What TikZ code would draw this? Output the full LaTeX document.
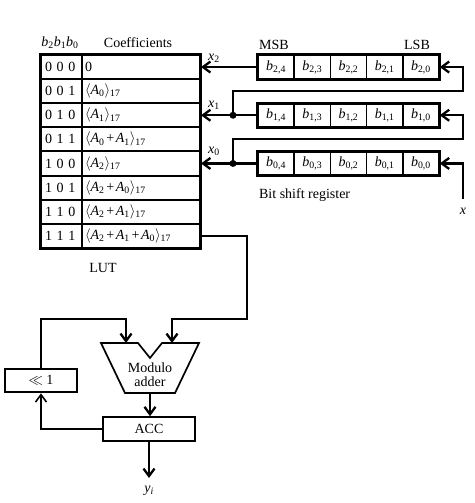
\documentclass[tikz,border=0pt]{standalone}
\usepackage{fontspec}
\setmainfont{Liberation Serif}
\usetikzlibrary{arrows.meta,calc}
\newcommand\iv[1]{\textit{#1}}
\newcommand\sbs[1]{\textsubscript{#1}}
\newcommand\bb[2]{\textit{b}\sbs{#1,#2}}
\newcommand\mA[1]{\textit{A}\sbs{#1}}
\newcommand\pl{\hspace{0.12em}+\hspace{0.12em}}
\newcommand\lng[1]{$\langle$#1$\rangle$\sbs{17}}
\begin{document}
\begin{tikzpicture}[x=1pt,y=-1pt,line width=2.3pt,
  font=\fontsize{14}{16}\selectfont,
  arr/.style={-{Straight Barb[length=7.5pt,width=11pt]}},
  lutk/.style={draw,line width=2pt,minimum width=41pt,minimum height=24.1pt,inner sep=0pt,text width=33pt,align=left},
  lutv/.style={draw,line width=2pt,minimum width=118pt,minimum height=24.1pt,inner sep=0pt,text width=112pt,align=left},
  regc/.style={draw,line width=1.5pt,minimum width=36.2pt,minimum height=23pt,inner sep=0pt},
  dot/.style={circle,fill,inner sep=0pt,minimum size=7pt},
  box/.style={draw,minimum height=23.5pt,inner sep=0pt},
  lbl/.style={inner sep=0pt}]
\useasboundingbox (0,0) rectangle (474,503);

% LUT
\node[lutk] (k0) at (61.5,67.05) {0 0 0};
\node[lutk] (k1) at (61.5,91.15) {0 0 1};
\node[lutk] (k2) at (61.5,115.25) {0 1 0};
\node[lutk] (k3) at (61.5,139.35) {0 1 1};
\node[lutk] (k4) at (61.5,163.45) {1 0 0};
\node[lutk] (k5) at (61.5,187.55) {1 0 1};
\node[lutk] (k6) at (61.5,211.65) {1 1 0};
\node[lutk] (k7) at (61.5,235.75) {1 1 1};
\node[lutv] (v0) at (141,67.05) {0};
\node[lutv] (v1) at (141,91.15) {\lng{\mA{0}}};
\node[lutv] (v2) at (141,115.25) {\lng{\mA{1}}};
\node[lutv] (v3) at (141,139.35) {\lng{\mA{0}\pl\mA{1}}};
\node[lutv] (v4) at (141,163.45) {\lng{\mA{2}}};
\node[lutv] (v5) at (141,187.55) {\lng{\mA{2}\pl\mA{0}}};
\node[lutv] (v6) at (141,211.65) {\lng{\mA{2}\pl\mA{1}}};
\node[lutv] (v7) at (141,235.75) {\lng{\mA{2}\pl\mA{1}\pl\mA{0}}};
\draw[line width=2.6pt] (k0.north west) rectangle (v7.south east);
\node[lbl] (hb) at (60,43) {\iv{b}\sbs{2}\iv{b}\sbs{1}\iv{b}\sbs{0}};
\node[lbl] (hc) at (138,43) {Coefficients};
\node[lbl] (lut) at (103,268) {LUT};

% shift registers
\foreach \r/\y in {2/67.05,1/115.25,0/163.45}{
  \node[regc] (r\r c4) at (276.1,\y) {\bb{\r}{4}};
  \node[regc] (r\r c3) at (312.3,\y) {\bb{\r}{3}};
  \node[regc] (r\r c2) at (348.5,\y) {\bb{\r}{2}};
  \node[regc] (r\r c1) at (384.7,\y) {\bb{\r}{1}};
  \node[regc] (r\r c0) at (420.9,\y) {\bb{\r}{0}};
  \draw[line width=2.6pt] (r\r c4.north west) rectangle (r\r c0.south east);
}
\node[lbl] (msb) at (274,45) {MSB};
\node[lbl] (lsb) at (417,45) {LSB};
\node[lbl,anchor=west] (bsr) at (258,195) {Bit shift register};

% connections registers -> LUT
\draw[arr] (r2c4.west) -- (v0.east);
\draw[arr] (r1c4.west) -- (v2.east);
\draw[arr] (r0c4.west) -- (v4.east);
\node[lbl] (lx2) at (214,58) {\iv{x}\sbs{2}};
\node[lbl] (lx1) at (214,105) {\iv{x}\sbs{1}};
\node[lbl] (lx0) at (214,151) {\iv{x}\sbs{0}};
\node[dot] (d1) at (233,115.25) {};
\node[dot] (d0) at (233,163.45) {};
\coordinate (f1) at (463,91);
\coordinate (f0) at (463,139);
\coordinate (xin) at (463,199);
\draw[arr] (d1.center) |- (f1) |- (r2c0.east);
\draw[arr] (d0.center) |- (f0) |- (r1c0.east);
\draw[arr] (xin) |- (r0c0.east);
\node[lbl] (lx) at (463,211) {\iv{x}};

% adder
\coordinate (a1) at (101,343);
\coordinate (a2) at (138,343);
\coordinate (a3) at (150,358);
\coordinate (a4) at (162,343);
\coordinate (a5) at (199,343);
\coordinate (a6) at (175,393);
\coordinate (a7) at (125,393);
\draw[line width=1.7pt,line join=miter] (a1) -- (a2) -- (a3) -- (a4) -- (a5) -- (a6) -- (a7) -- cycle;
\node[lbl,align=center] (adder) at (150,375) {Modulo\\[-2pt]adder};
\coordinate (inL) at (126,343);
\coordinate (inR) at (172,343);
\coordinate (aout) at (150,393);

\node[box,line width=2pt,minimum width=72pt] (shift) at (41,380.5) {$\ll$ 1};
\node[box,line width=2pt,minimum width=92pt] (acc) at (149,429) {ACC};
\coordinate (t1) at (247,319);
\coordinate (t2) at (41,319);
\coordinate (yout) at (149,478);

\draw[arr] (v7.east) -| (t1) -| (inR);
\draw[arr] (shift.north) -- (t2) -| (inL);
\draw[arr] (aout) -- (aout |- acc.north);
\draw[arr,line width=1.6pt] (acc.west) -| (shift.south);
\draw[arr] (acc.south) -- (yout);
\node[lbl] (ly) at (149,491) {\iv{y}\sbs{\iv{i}}};
\end{tikzpicture}
\end{document}
